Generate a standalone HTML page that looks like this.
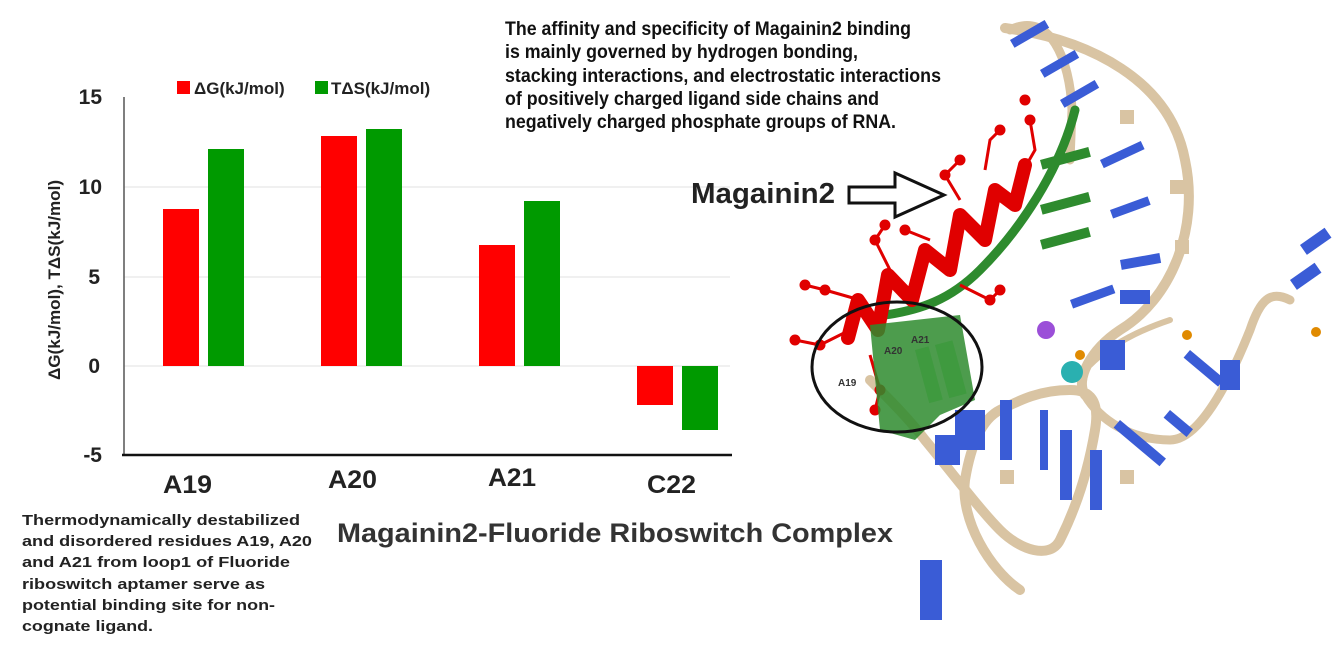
<!DOCTYPE html>
<html><head><meta charset="utf-8"><style>
body{margin:0;background:#fff;width:1338px;height:671px;overflow:hidden;position:relative}
</style></head><body>
<svg width="1338" height="671" style="position:absolute;left:0;top:0" font-family="Liberation Sans, sans-serif">
<!-- chart -->
<g stroke="#e2e2e2" stroke-width="1">
<line x1="124" y1="187" x2="730" y2="187"/><line x1="124" y1="277" x2="730" y2="277"/><line x1="124" y1="366" x2="730" y2="366"/>
</g>
<line x1="124" y1="97" x2="124" y2="455" stroke="#555" stroke-width="1.5"/>
<line x1="122" y1="455" x2="732" y2="455" stroke="#111" stroke-width="2.5"/>
<g font-size="21" font-weight="bold" fill="#222" text-anchor="end">
<text x="102" y="104">15</text><text x="102" y="194">10</text><text x="100" y="284">5</text><text x="100" y="373">0</text><text x="102" y="462">-5</text>
</g>
<text transform="translate(60,280) rotate(-90)" text-anchor="middle" font-size="17" font-weight="bold" fill="#222" textLength="200" lengthAdjust="spacingAndGlyphs">ΔG(kJ/mol), TΔS(kJ/mol)</text>
<g fill="#ff0000">
<rect x="163" y="209" width="36" height="157"/><rect x="321" y="136" width="36" height="230"/><rect x="479" y="245" width="36" height="121"/><rect x="637" y="366" width="36" height="39"/>
</g>
<g fill="#009a00">
<rect x="208" y="149" width="36" height="217"/><rect x="366" y="129" width="36" height="237"/><rect x="524" y="201" width="36" height="165"/><rect x="682" y="366" width="36" height="64"/>
</g>
<rect x="177" y="81" width="13" height="13" fill="#ff0000"/>
<text x="194" y="94" font-size="17" font-weight="bold" fill="#222">ΔG(kJ/mol)</text>
<rect x="315" y="81" width="13" height="13" fill="#009a00"/>
<text x="331" y="94" font-size="17" font-weight="bold" fill="#222">TΔS(kJ/mol)</text>
<g font-size="25" font-weight="bold" fill="#222">
<text x="163" y="493" textLength="49" lengthAdjust="spacingAndGlyphs">A19</text>
<text x="328" y="488" textLength="49" lengthAdjust="spacingAndGlyphs">A20</text>
<text x="488" y="486" textLength="48" lengthAdjust="spacingAndGlyphs">A21</text>
<text x="647" y="493" textLength="49" lengthAdjust="spacingAndGlyphs">C22</text>
</g>
<!-- texts -->
<g font-size="19" font-weight="bold" fill="#111">
<text x="505" y="35" textLength="406" lengthAdjust="spacingAndGlyphs">The affinity and specificity of Magainin2 binding</text>
<text x="505" y="58" textLength="353" lengthAdjust="spacingAndGlyphs">is mainly governed by hydrogen bonding,</text>
<text x="505" y="82" textLength="436" lengthAdjust="spacingAndGlyphs">stacking interactions, and electrostatic interactions</text>
<text x="505" y="105" textLength="374" lengthAdjust="spacingAndGlyphs">of positively charged ligand side chains and</text>
<text x="505" y="128" textLength="391" lengthAdjust="spacingAndGlyphs">negatively charged phosphate groups of RNA.</text>
</g>
<text x="691" y="203" font-size="29" font-weight="bold" fill="#222" textLength="144" lengthAdjust="spacingAndGlyphs">Magainin2</text>
<g font-size="15" font-weight="bold" fill="#222">
<text x="22" y="525" textLength="278" lengthAdjust="spacingAndGlyphs">Thermodynamically destabilized</text>
<text x="22" y="546" textLength="290" lengthAdjust="spacingAndGlyphs">and disordered residues A19, A20</text>
<text x="22" y="567" textLength="268" lengthAdjust="spacingAndGlyphs">and A21 from loop1 of Fluoride</text>
<text x="22" y="589" textLength="243" lengthAdjust="spacingAndGlyphs">riboswitch aptamer serve as</text>
<text x="22" y="610" textLength="253" lengthAdjust="spacingAndGlyphs">potential binding site for non-</text>
<text x="22" y="631" textLength="131" lengthAdjust="spacingAndGlyphs">cognate ligand.</text>
</g>
<text x="337" y="542" font-size="27" font-weight="bold" fill="#333" textLength="556" lengthAdjust="spacingAndGlyphs">Magainin2-Fluoride Riboswitch Complex</text>
<!-- arrow -->
<path d="M849 187 L895 187 L895 173 L944 195 L895 217 L895 203 L849 203 Z" fill="#fff" stroke="#111" stroke-width="3"/>
<!-- molecule -->
<g fill="none" stroke-linecap="round" stroke-linejoin="round">
<path d="M1010 30 C1050 10,1070 60,1072 110 L1070 160" stroke="#d9c4a3" stroke-width="9"/>
<path d="M1005 28 C1090 40,1170 80,1185 160 C1200 230,1170 300,1120 330 C1090 350,1075 380,1085 395" stroke="#d9c4a3" stroke-width="10"/>
<path d="M1075 110 C1060 170,1020 230,980 270 C950 300,920 310,885 315" stroke="#2e8b2e" stroke-width="9"/>
<path d="M870 380 C890 400,910 420,925 440 C950 470,980 510,1000 530 C1020 550,1050 560,1060 540 C1080 500,1090 460,1095 430 C1100 400,1090 390,1070 390 C1040 390,1020 400,1000 410 C980 420,970 450,965 480 C960 520,990 570,1020 590" stroke="#d9c4a3" stroke-width="10"/>
<path d="M1085 395 C1100 420,1130 440,1170 440 C1200 440,1230 380,1250 330 C1260 300,1270 290,1290 300" stroke="#d9c4a3" stroke-width="9"/>
<path d="M1090 365 C1110 345,1140 330,1170 320" stroke="#d9c4a3" stroke-width="6"/>
<path d="M848 338 L858 300 L878 330 L888 275 L912 300 L925 250 L950 270 L960 215 L985 240 L995 190 L1015 205 L1025 165" stroke="#e00000" stroke-width="14"/>
</g>
<g stroke="#e00000" stroke-width="3" fill="#e00000">
<path d="M985 170 L990 140 L1000 130 M1015 185 L1035 150 L1030 120 M960 200 L945 175 L960 160 M930 240 L905 230 M890 270 L875 240 L885 225 M860 300 L825 290 L805 285 M850 330 L820 345 L795 340 M870 355 L880 390 L875 410 M960 285 L990 300 L1000 290" fill="none"/>
<circle cx="1000" cy="130" r="4"/><circle cx="1030" cy="120" r="4"/><circle cx="1025" cy="100" r="4"/><circle cx="960" cy="160" r="4"/><circle cx="945" cy="175" r="4"/><circle cx="905" cy="230" r="4"/><circle cx="885" cy="225" r="4"/><circle cx="875" cy="240" r="4"/><circle cx="805" cy="285" r="4"/><circle cx="825" cy="290" r="4"/><circle cx="795" cy="340" r="4"/><circle cx="820" cy="345" r="4"/><circle cx="880" cy="390" r="4"/><circle cx="875" cy="410" r="4"/><circle cx="1000" cy="290" r="4"/><circle cx="990" cy="300" r="4"/>
</g>
<g fill="#2e8b2e">
<rect x="1040" y="160" width="50" height="10" transform="rotate(-15 1040 160)"/>
<rect x="1040" y="205" width="50" height="10" transform="rotate(-15 1040 205)"/>
<rect x="1040" y="240" width="50" height="10" transform="rotate(-15 1040 240)"/>
<path d="M870 325 L960 315 L975 400 L940 415 L915 440 L880 430 Z" opacity=".85"/>
<rect x="935" y="345" width="18" height="55" fill="#3f9a3f" transform="rotate(-15 935 345)"/>
<rect x="915" y="350" width="14" height="55" fill="#3f9a3f" transform="rotate(-15 915 350)"/>
</g>
<g fill="#3a5cd6">
<rect x="1100" y="160" width="45" height="9" transform="rotate(-25 1100 160)"/>
<rect x="1110" y="210" width="40" height="9" transform="rotate(-20 1110 210)"/>
<rect x="1120" y="260" width="40" height="10" transform="rotate(-10 1120 260)"/>
<rect x="1120" y="290" width="30" height="14"/>
<rect x="1070" y="300" width="45" height="9" transform="rotate(-20 1070 300)"/>
<rect x="1010" y="40" width="40" height="9" transform="rotate(-30 1010 40)"/>
<rect x="1040" y="70" width="40" height="9" transform="rotate(-30 1040 70)"/>
<rect x="1060" y="100" width="40" height="9" transform="rotate(-30 1060 100)"/>
<rect x="955" y="410" width="30" height="40"/>
<rect x="1000" y="400" width="12" height="60"/>
<rect x="1040" y="410" width="8" height="60"/>
<rect x="1100" y="340" width="25" height="30"/>
<rect x="1190" y="350" width="45" height="10" transform="rotate(40 1190 350)"/>
<rect x="1220" y="360" width="20" height="30"/>
<rect x="1170" y="410" width="30" height="10" transform="rotate(40 1170 410)"/>
<rect x="1120" y="420" width="60" height="10" transform="rotate(40 1120 420)"/>
<rect x="1060" y="430" width="12" height="70"/>
<rect x="1090" y="450" width="12" height="60"/>
<rect x="1300" y="245" width="30" height="12" transform="rotate(-35 1300 245)"/>
<rect x="1290" y="280" width="30" height="12" transform="rotate(-35 1290 280)"/>
<rect x="920" y="560" width="22" height="60"/>
<rect x="935" y="435" width="25" height="30"/>
</g>
<g fill="#d9c4a3">
<rect x="1170" y="180" width="14" height="14"/><rect x="1120" y="110" width="14" height="14"/><rect x="1175" y="240" width="14" height="14"/><rect x="1000" y="470" width="14" height="14"/><rect x="1120" y="470" width="14" height="14"/>
</g>
<circle cx="1046" cy="330" r="9" fill="#9b4fd8"/>
<circle cx="1072" cy="372" r="11" fill="#2ab0b0"/>
<circle cx="1080" cy="355" r="5" fill="#e08a00"/>
<circle cx="1187" cy="335" r="5" fill="#e08a00"/>
<circle cx="1316" cy="332" r="5" fill="#e08a00"/>
<ellipse cx="897" cy="367" rx="85" ry="65" fill="none" stroke="#111" stroke-width="3"/>
<g font-size="10" font-weight="bold" fill="#333"><text x="838" y="386">A19</text><text x="884" y="354">A20</text><text x="911" y="343">A21</text></g>
</svg>
</body></html>
